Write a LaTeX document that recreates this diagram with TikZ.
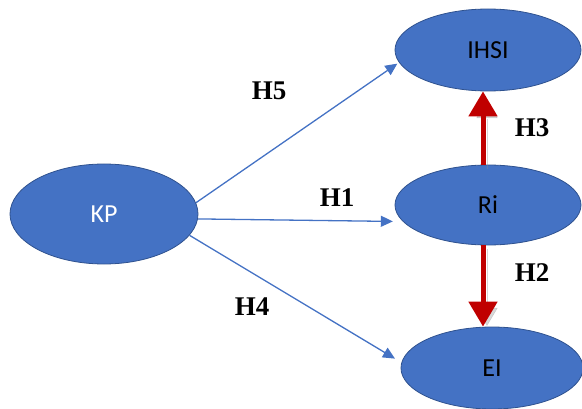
\documentclass[tikz,border=0pt]{standalone}
\usepackage{fontspec}
\setmainfont{Carlito}
\newfontfamily\hfont{Liberation Serif}
\usetikzlibrary{arrows.meta,shapes.geometric}
\definecolor{ovalblue}{HTML}{4472C4}
\definecolor{ovalline}{HTML}{2F528F}
\definecolor{pathred}{HTML}{C00000}

\begin{document}
\begin{tikzpicture}[x=1pt,y=1pt,
        var/.style={ellipse,fill=ovalblue,draw=ovalline,line width=.8pt,inner sep=0pt,
            font=\fontsize{26}{30}\selectfont},
        hyp/.style={font=\hfont\bfseries\fontsize{27}{30}\selectfont},
        bluearrow/.style={draw=ovalblue,line width=1.3pt,-{Triangle[width=11pt,length=12pt]}},
        redarrow/.style={draw=pathred,line width=5pt,-{Triangle[width=28pt,length=25pt]},
            preaction={draw=black!45,opacity=.35,transform canvas={shift={(4pt,-4pt)}}}}]
        \useasboundingbox (0,0) rectangle (582,408);
        % constructs
        \node[var,minimum width=188pt,minimum height=100pt,text=white] (KP) at (104,194) {KP};
        \node[var,minimum width=186pt,minimum height=82pt] (IHSI) at (488,358) {IHSI};
        \node[var,minimum width=186pt,minimum height=80pt] (Ri) at (488,203) {Ri};
        \node[var,minimum width=182pt,minimum height=82pt] (EI) at (492,40) {EI};
        % paths
        \draw[bluearrow,shorten >=2pt] (KP.7) -- (IHSI.188);
        \draw[bluearrow,shorten >=10pt] (KP.-3) -- (Ri.191);
        \draw[bluearrow] (KP.-14) -- ([xshift=-8pt]EI.174);
        \draw[redarrow] ([xshift=-5pt]Ri.north) -- ([xshift=-5pt]IHSI.south);
        \draw[redarrow] ([xshift=-5pt]Ri.south) -- ([xshift=-5pt]Ri.south |- EI.north);
        % labels
        \node[hyp] (h5) at (269,317) {H5};
        \node[hyp] (h1) at (337,210) {H1};
        \node[hyp] (h4) at (252,101) {H4};
        \node[hyp] (h3) at (532,280) {H3};
        \node[hyp] (h2) at (532,135) {H2};
\end{tikzpicture}
\end{document}
